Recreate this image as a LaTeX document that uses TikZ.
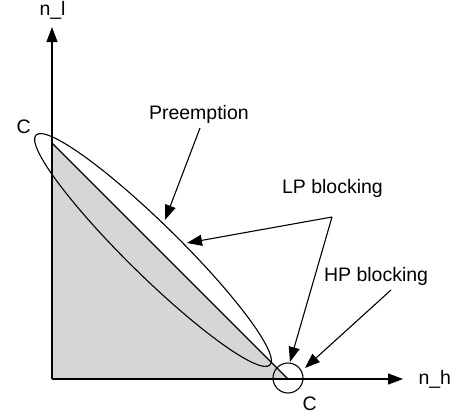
\documentclass[tikz,border=0pt]{standalone}
\usepackage{fontspec}
\setmainfont{Liberation Sans}
\usetikzlibrary{arrows.meta}
\definecolor{regiongray}{RGB}{214,214,214}
\begin{document}
\begin{tikzpicture}[x=1pt,y=-1pt,line width=1.1pt,
  lbl/.style={inner sep=0pt,font=\fontsize{19.5}{22}\selectfont,anchor=base west},
  tip/.style={-{Triangle[length=15pt,width=11pt]}}]
\useasboundingbox (0,0) rectangle (456,416);
% key points
\coordinate (O) at (52,379);
\coordinate (T) at (52,143);
\coordinate (R) at (288,379);
\coordinate (Ytip) at (52,27);
\coordinate (Xtip) at (403,379);
\coordinate (Cc) at (288,378);
% shaded region
\fill[regiongray] (O) -- (T) -- (R) -- cycle;
\draw (T) -- (R);
% ellipse and circle
\draw[rotate around={-44.5:(153,250)}] (153,250) ellipse [x radius=164pt,y radius=26pt];
\draw (Cc) circle [radius=15pt];
% axes
\draw[tip] (O) -- (Ytip);
\draw[tip] (O) -- (Xtip);
% labels
\node[lbl] (nl) at (39,15) {n\_l};
\node[lbl] (nh) at (418,384) {n\_h};
\node[lbl] (c1) at (16,133) {C};
\node[lbl] (c2) at (302,410) {C};
\node[lbl] (pre) at (148.5,119) {Preemption};
\node[lbl] (lp) at (281.5,193) {LP blocking};
\node[lbl] (hp) at (323.5,281) {HP blocking};
% connector points
\coordinate (pa) at (200,128);
\coordinate (pe) at (165,220);
\coordinate (lpa) at (332,217);
\coordinate (lp1) at (187,243);
\coordinate (lp2) at (290,362);
\coordinate (hpa) at (391,290);
\coordinate (hp1) at (305,368);
\draw[tip] (pa) -- (pe);
\draw[tip] (lpa) -- (lp1);
\draw[tip] (lpa) -- (lp2);
\draw[tip] (hpa) -- (hp1);
\end{tikzpicture}
\end{document}
